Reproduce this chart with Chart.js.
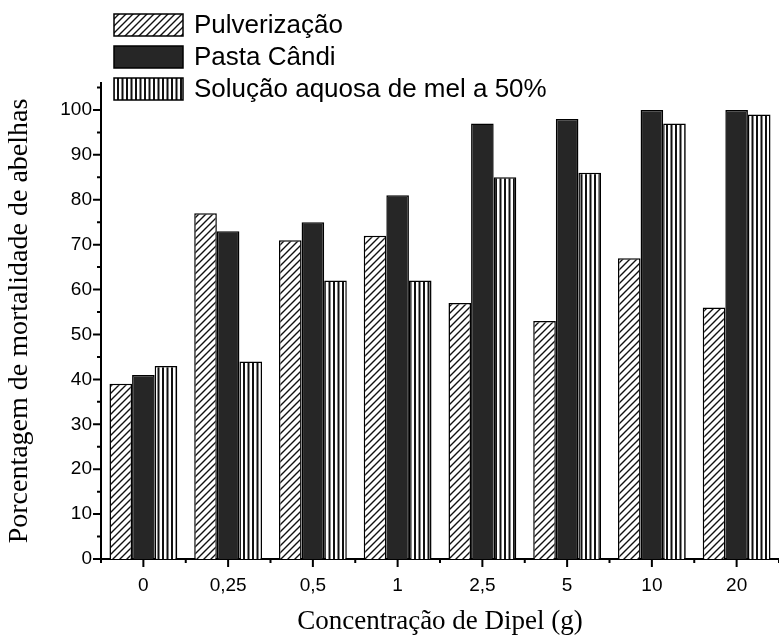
<!DOCTYPE html>
<html>
<head>
<meta charset="utf-8">
<script src="https://cdn.jsdelivr.net/npm/chart.js@4.4.0/dist/chart.umd.min.js"></script>
<style>
    html, body { margin: 0; padding: 0; background: #fff; overflow: hidden; }
    canvas { display: block; }
</style>
</head>
<body>
<canvas id="chart" width="779" height="637"></canvas>
<script>
var categories = ['0', '0,25', '0,5', '1', '2,5', '5', '10', '20'];
var seriesNames = ['Pulverização', 'Pasta Cândi', 'Solução aquosa de mel a 50%'];
var pulverizacao = [39, 77, 71, 72, 57, 53, 67, 56];
var pastaCandi = [41, 73, 75, 81, 97, 98, 100, 100];
var solucaoMel = [43, 44, 62, 62, 85, 86, 97, 99];
var yTicks = [0, 10, 20, 30, 40, 50, 60, 70, 80, 90, 100];
var yMax = 106;

// padrões de preenchimento (hachuras)
function diagPattern() {
    var c = document.createElement('canvas');
    c.width = 7; c.height = 7;
    var g = c.getContext('2d');
    g.fillStyle = '#fff';
    g.fillRect(0, 0, 7, 7);
    g.strokeStyle = '#111';
    g.lineWidth = 1.4;
    g.beginPath();
    g.moveTo(0, 7); g.lineTo(7, 0);
    g.moveTo(-2, 2); g.lineTo(2, -2);
    g.moveTo(5, 9); g.lineTo(9, 5);
    g.stroke();
    return g.createPattern(c, 'repeat');
}

function stripePattern() {
    var c = document.createElement('canvas');
    c.width = 9; c.height = 4;
    var g = c.getContext('2d');
    g.fillStyle = '#fff';
    g.fillRect(0, 0, 9, 4);
    g.fillStyle = '#111';
    g.fillRect(0, 0, 2, 4);
    g.fillRect(4.5, 0, 2, 4);
    return g.createPattern(c, 'repeat');
}

var fills = [diagPattern(), '#262626', stripePattern()];

var axisTicks = {
    id: 'axisTicks',
    afterDraw: function(chart) {
        var ctx = chart.ctx;
        var xs = chart.scales.x;
        var ys = chart.scales.y;
        var area = chart.chartArea;
        ctx.save();
        ctx.strokeStyle = '#000';
        ctx.lineWidth = 2;
        ctx.beginPath();
        // marcas do eixo y (maiores a cada 10, menores a cada 5)
        for (var v = 0; v <= yMax; v += 5) {
            var py = ys.getPixelForValue(v);
            var len = (v % 10 === 0) ? 8 : 4;
            ctx.moveTo(area.left, py);
            ctx.lineTo(area.left - len, py);
        }
        // marcas do eixo x
        var step = (xs.right - xs.left) / categories.length;
        for (var i = 0; i < categories.length; i++) {
            var px = xs.getPixelForValue(i);
            ctx.moveTo(px, area.bottom);
            ctx.lineTo(px, area.bottom + 8);
        }
        for (var j = 0; j <= categories.length; j++) {
            var bx = xs.left + j * step;
            ctx.moveTo(bx, area.bottom);
            ctx.lineTo(bx, area.bottom + 4);
        }
        ctx.stroke();

        // legenda
        ctx.font = '26px "Liberation Sans", Arial, sans-serif';
        ctx.textBaseline = 'middle';
        ctx.fillStyle = '#000';
        chart.data.datasets.forEach(function(ds, k) {
            var top = 14 + k * 32;
            ctx.fillStyle = ds.backgroundColor;
            ctx.fillRect(114, top, 69, 22);
            ctx.lineWidth = 1.5;
            ctx.strokeStyle = '#000';
            ctx.strokeRect(114, top, 69, 22);
            ctx.fillStyle = '#000';
            ctx.fillText(ds.label, 194, top + 12);
        });
        ctx.restore();
    }
};

var datasets = [pulverizacao, pastaCandi, solucaoMel].map(function(values, k) {
    return {
        label: seriesNames[k],
        data: values,
        backgroundColor: fills[k],
        borderColor: '#000',
        borderWidth: 1.5,
        categoryPercentage: 0.8,
        barPercentage: 1.0
    };
});

var ctx = document.getElementById('chart').getContext('2d');
var chart = new Chart(ctx, {
    type: 'bar',
    data: {
        labels: categories,
        datasets: datasets
    },
    options: {
        responsive: false,
        animation: false,
        layout: {
            padding: { top: 83, left: 0, right: 0, bottom: 0 }
        },
        plugins: {
            legend: { display: false },
            tooltip: { enabled: false }
        },
        scales: {
            x: {
                grid: { display: false, drawTicks: false },
                border: { display: true, color: '#000', width: 2 },
                ticks: {
                    color: '#000',
                    padding: 15,
                    maxRotation: 0,
                    font: { family: '"Liberation Sans", Arial, sans-serif', size: 19 }
                },
                title: {
                    display: true,
                    text: 'Concentração de Dipel (g)',
                    color: '#000',
                    padding: { top: 0, bottom: 0 },
                    font: { family: '"Liberation Serif", "Times New Roman", serif', size: 27, lineHeight: 1.1 }
                },
                afterFit: function(scale) { scale.height = 78; }
            },
            y: {
                min: 0,
                max: yMax,
                grid: { display: false, drawTicks: false },
                border: { display: true, color: '#000', width: 2 },
                afterBuildTicks: function(scale) {
                    scale.ticks = yTicks.map(function(v) { return { value: v }; });
                },
                ticks: {
                    color: '#000',
                    padding: 9,
                    font: { family: '"Liberation Sans", Arial, sans-serif', size: 19 }
                },
                title: {
                    display: true,
                    text: 'Porcentagem de mortalidade de abelhas',
                    color: '#000',
                    padding: { top: 3, bottom: 0 },
                    font: { family: '"Liberation Serif", "Times New Roman", serif', size: 28 }
                },
                afterFit: function(scale) { scale.width = 101; }
            }
        }
    },
    plugins: [axisTicks]
});
</script>
</body>
</html>
